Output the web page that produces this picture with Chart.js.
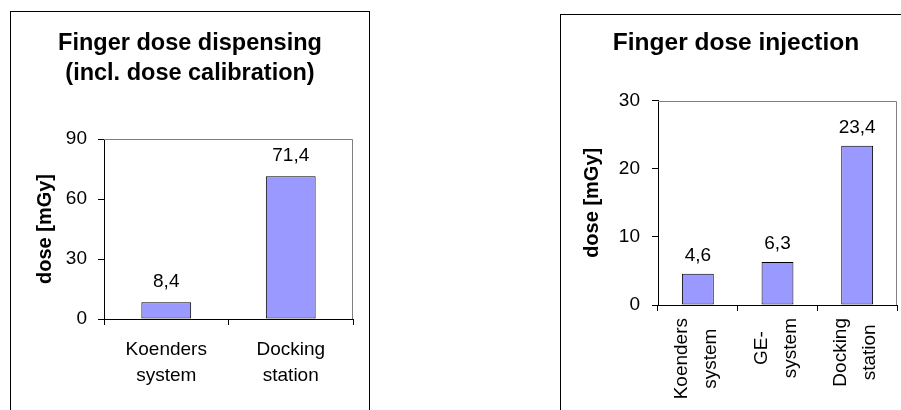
<!DOCTYPE html>
<html>
<head>
<meta charset="utf-8">
<script src="https://cdn.jsdelivr.net/npm/chart.js@4"></script>
<style>
  html, body { margin: 0; padding: 0; background: #fff; width: 901px; height: 410px; overflow: hidden; }
  .panel { position: absolute; border: 1px solid #000; overflow: hidden; background: #fff; }
  #panelDispensing { left: 10px; top: 11px; width: 358px; height: 430px; }
  #panelInjection { left: 560px; top: 14px; width: 380px; height: 430px; }
  canvas { position: absolute; left: 0; top: 0; }
</style>
</head>
<body>
<div class="panel" id="panelDispensing"><canvas id="chartDispensing" width="358" height="398"></canvas></div>
<div class="panel" id="panelInjection"><canvas id="chartInjection" width="350" height="395"></canvas></div>
<script>
// Finger dose while dispensing (incl. dose calibration)
const dispensingCategories = [['Koenders', 'system'], ['Docking', 'station']];
const dispensingDose = [8.4, 71.4];
const dispensingTicks = [0, 30, 60, 90];

// Finger dose while injecting
const injectionCategories = [['Koenders', 'system'], ['GE-', 'system'], ['Docking', 'station']];
const injectionDose = [4.6, 6.3, 23.4];
const injectionTicks = [0, 10, 20, 30];

const FONT = "'Liberation Sans', Arial, Helvetica, sans-serif";
const TEXT_SIZE = 19;
Chart.defaults.font.family = FONT;
Chart.defaults.color = '#000';

// Grey frame on the top and right of the plot area
const plotFrame = {
  id: 'plotFrame',
  beforeDatasetsDraw(chart) {
    const { ctx, chartArea: a } = chart;
    const t = Math.round(a.top) + 0.5;
    const r = Math.round(a.right) - 0.5;
    ctx.save();
    ctx.strokeStyle = '#808080';
    ctx.lineWidth = 1;
    ctx.beginPath();
    ctx.moveTo(Math.round(a.left), t);
    ctx.lineTo(r, t);
    ctx.lineTo(r, Math.round(a.bottom));
    ctx.stroke();
    ctx.restore();
  }
};

// Value printed above each bar, decimal comma
const valueLabels = {
  id: 'valueLabels',
  afterDatasetsDraw(chart, args, opts) {
    const { ctx } = chart;
    const meta = chart.getDatasetMeta(0);
    const values = chart.data.datasets[0].data;
    ctx.save();
    ctx.font = opts.font;
    ctx.fillStyle = '#000';
    ctx.textAlign = 'center';
    ctx.textBaseline = 'alphabetic';
    meta.data.forEach((bar, i) => {
      const text = values[i].toFixed(1).replace('.', ',');
      ctx.fillText(text, bar.x, bar.y - opts.gap);
    });
    ctx.restore();
  }
};

// Category names written upwards, each line centred in its block
const uprightLabels = {
  id: 'uprightLabels',
  afterDraw(chart, args, opts) {
    if (!opts.enabled) return;
    const scale = chart.scales.x;
    const { ctx } = chart;
    ctx.save();
    ctx.font = opts.font;
    ctx.fillStyle = '#000';
    ctx.textAlign = 'center';
    ctx.textBaseline = 'middle';
    chart.data.labels.forEach((lines, i) => {
      const x = scale.getPixelForTick(i);
      const longest = Math.max(...lines.map(l => ctx.measureText(l).width));
      const yMid = scale.top + opts.offset + longest / 2;
      lines.forEach((line, j) => {
        const dx = (j - (lines.length - 1) / 2) * opts.lineHeight + opts.shift;
        ctx.save();
        ctx.translate(x + dx, yMid);
        ctx.rotate(-Math.PI / 2);
        ctx.fillText(line, 0, 0);
        ctx.restore();
      });
    });
    ctx.restore();
  }
};

function doseChart(canvasId, cfg) {
  const ticks = cfg.ticks;
  return new Chart(document.getElementById(canvasId), {
    type: 'bar',
    data: {
      labels: cfg.labels,
      datasets: [{
        data: cfg.values,
        backgroundColor: '#9999FF',
        borderColor: '#000',
        borderWidth: 1,
        borderSkipped: false,
        barPercentage: 0.4,
        categoryPercentage: 1
      }]
    },
    options: {
      responsive: false,
      animation: false,
      events: [],
      layout: { padding: { left: cfg.pad, top: 0, right: cfg.pad, bottom: 0 } },
      plugins: {
        legend: { display: false },
        tooltip: { enabled: false },
        title: {
          display: true,
          text: cfg.title,
          color: '#000',
          font: { family: FONT, size: cfg.titleSize, weight: 'bold', lineHeight: '30px' },
          padding: { top: cfg.titleTop, bottom: cfg.titleBottom }
        },
        valueLabels: { font: TEXT_SIZE + 'px ' + FONT, gap: cfg.valueGap },
        uprightLabels: { enabled: cfg.upright, font: TEXT_SIZE + 'px ' + FONT, offset: 13, lineHeight: 29, shift: -1.5 }
      },
      scales: {
        x: {
          offset: true,
          grid: { offset: true, drawOnChartArea: false, drawTicks: true, tickLength: 6, tickColor: '#000', tickWidth: 1 },
          border: { display: true, color: '#000', width: 1 },
          ticks: {
            display: !cfg.upright,
            color: '#000',
            font: { family: FONT, size: TEXT_SIZE, lineHeight: '26px' },
            padding: 12,
            maxRotation: 0,
            minRotation: 0,
            autoSkip: false
          },
          afterFit: s => { s.height = cfg.xHeight; }
        },
        y: {
          min: ticks[0],
          max: ticks[ticks.length - 1],
          grid: { drawOnChartArea: false, drawTicks: true, tickLength: 6, tickColor: '#000', tickWidth: 1 },
          border: { display: true, color: '#000', width: 1 },
          ticks: {
            stepSize: ticks[1] - ticks[0],
            color: '#000',
            font: { family: FONT, size: TEXT_SIZE },
            padding: cfg.yPad
          },
          title: {
            display: true,
            text: 'dose [mGy]',
            color: '#000',
            font: { family: FONT, size: 20, weight: 'bold', lineHeight: 1.2 },
            padding: { top: cfg.yTitlePad, bottom: 0 }
          },
          afterFit: s => { s.width = cfg.yWidth; }
        }
      }
    },
    plugins: [plotFrame, valueLabels, uprightLabels]
  });
}

doseChart('chartDispensing', {
  labels: dispensingCategories,
  values: dispensingDose,
  ticks: dispensingTicks,
  title: ['Finger dose dispensing', '(incl. dose calibration)'],
  titleSize: 23.5, titleTop: 17, titleBottom: 50,
  pad: 16, xHeight: 91, yWidth: 77, yPad: 11, yTitlePad: 6,
  valueGap: 15.5, upright: false
});

doseChart('chartInjection', {
  labels: injectionCategories,
  values: injectionDose,
  ticks: injectionTicks,
  title: 'Finger dose injection',
  titleSize: 24.5, titleTop: 13, titleBottom: 42.7,
  pad: 14, xHeight: 105, yWidth: 83, yPad: 12, yTitlePad: 5,
  valueGap: 13, upright: true
});
</script>
</body>
</html>
